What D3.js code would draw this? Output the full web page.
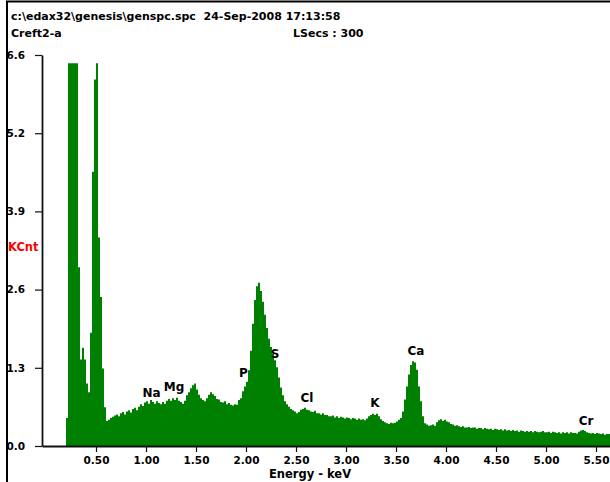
<!DOCTYPE html>
<html>
<head>
<meta charset="utf-8">
<script src="https://cdn.jsdelivr.net/npm/d3@7"></script>
<style>
  body { margin: 0; background: #fff; }
  svg text { font-family: "DejaVu Sans", sans-serif; font-weight: bold; white-space: pre; }
</style>
</head>
<body>
<div id="chart"></div>
<script>
// spectrum header
const headerLine1 = "c:\\edax32\\genesis\\genspc.spc  24-Sep-2008 17:13:58";
const headerLabel = "Creft2-a";
const liveSecs = "LSecs : 300";

// channels: start energy (keV) and width (keV)
const startKeV = 0.20;
const stepKeV = 0.02;

// counts per channel (KCnt)
const counts = [
  0.47, 6.42, 6.42, 6.42, 6.42, 6.42, 3.0, 1.45, 1.65, 1.45,
  1.05, 0.9, 1.9, 4.6, 6.15, 6.42, 3.5, 2.5, 1.3, 0.65,
  0.42, 0.44, 0.47, 0.49, 0.51, 0.53, 0.5, 0.55, 0.57, 0.53,
  0.58, 0.6, 0.56, 0.62, 0.64, 0.6, 0.66, 0.7, 0.67, 0.73,
  0.75, 0.71, 0.77, 0.74, 0.71, 0.75, 0.72, 0.7, 0.74, 0.71,
  0.76, 0.79, 0.76, 0.8, 0.77, 0.81, 0.76, 0.74, 0.71, 0.76,
  0.85, 0.9, 0.97, 1.02, 1.05, 0.95, 0.86, 0.8, 0.77, 0.75,
  0.8, 0.86, 0.9, 0.87, 0.84, 0.79, 0.78, 0.74, 0.73, 0.75,
  0.7, 0.72, 0.69, 0.68, 0.7, 0.69, 0.77, 0.8, 0.92, 1.0,
  1.08, 1.27, 1.6, 2.05, 2.45, 2.68, 2.74, 2.6, 2.42, 2.2,
  1.98, 1.8, 1.66, 1.55, 1.44, 1.32, 1.15, 0.98, 0.85, 0.75,
  0.7, 0.66, 0.62, 0.6, 0.58, 0.55, 0.57, 0.61, 0.62, 0.64,
  0.61, 0.6, 0.58, 0.57, 0.59, 0.55, 0.55, 0.53, 0.55, 0.52,
  0.52, 0.5, 0.5, 0.51, 0.48, 0.5, 0.47, 0.49, 0.48, 0.46,
  0.48, 0.47, 0.45, 0.47, 0.46, 0.44, 0.46, 0.44, 0.45, 0.43,
  0.46, 0.5, 0.52, 0.54, 0.52, 0.54, 0.5, 0.45, 0.42, 0.4,
  0.38, 0.37, 0.39, 0.38, 0.39, 0.41, 0.44, 0.47, 0.58, 0.78,
  1.0, 1.2, 1.36, 1.42, 1.4, 1.28, 1.0, 0.75, 0.5, 0.38,
  0.36, 0.34, 0.35, 0.36, 0.34, 0.4, 0.43, 0.45, 0.42, 0.44,
  0.41, 0.4, 0.37, 0.36, 0.34, 0.35, 0.33, 0.32, 0.33, 0.31,
  0.31, 0.32, 0.3, 0.31, 0.31, 0.29, 0.3, 0.3, 0.28, 0.3,
  0.29, 0.28, 0.29, 0.27, 0.29, 0.28, 0.27, 0.28, 0.26, 0.28,
  0.26, 0.27, 0.25, 0.27, 0.25, 0.26, 0.24, 0.26, 0.25, 0.24,
  0.25, 0.24, 0.25, 0.23, 0.25, 0.24, 0.23, 0.24, 0.25, 0.23,
  0.23, 0.24, 0.22, 0.24, 0.23, 0.22, 0.23, 0.21, 0.23, 0.22,
  0.23, 0.21, 0.23, 0.22, 0.22, 0.21, 0.24, 0.26, 0.27, 0.25,
  0.23, 0.22, 0.21, 0.22, 0.2, 0.22, 0.21, 0.2, 0.21, 0.19,
  0.2, 0.2
];

// element markers
const elements = ["Na", "Mg", "P", "S", "Cl", "K", "Ca", "Cr"];
const elementKeV = [1.055, 1.28, 1.975, 2.29, 2.61, 3.29, 3.70, 5.40];
const elementKCnt = [0.83, 0.93, 1.15, 1.47, 0.73, 0.65, 1.53, 0.35];

// axis ticks
const xTicks = [0.5, 1.0, 1.5, 2.0, 2.5, 3.0, 3.5, 4.0, 4.5, 5.0, 5.5];
const yTicks = [0, 1.312, 2.624, 3.936, 5.248, 6.56];

const width = 610, height = 482;

const svg = d3.select("#chart")
  .append("svg")
  .attr("width", width)
  .attr("height", height);

const x = d3.scaleLinear().domain([-0.04, 5.64]).range([42, 610]);
const y = d3.scaleLinear().domain([0, 6.56]).range([446, 55]);

// window frame
svg.append("path")
  .attr("d", "M7,482V1.5H610")
  .attr("fill", "none")
  .attr("stroke", "#000")
  .attr("stroke-width", 2);

// header text
svg.append("text").attr("x", 11).attr("y", 20).attr("font-size", 11).text(headerLine1);
svg.append("text").attr("x", 11).attr("y", 37).attr("font-size", 11).text(headerLabel);
svg.append("text").attr("x", 293).attr("y", 37).attr("font-size", 11).text(liveSecs);

// spectrum
const pts = counts.map((v, i) => [startKeV + i * stepKeV, v]);
pts.push([startKeV + counts.length * stepKeV, counts[counts.length - 1]]);

const area = d3.area()
  .x(d => x(d[0]))
  .y0(y(0))
  .y1(d => y(d[1]))
  .curve(d3.curveStepAfter);

svg.append("path")
  .datum(pts)
  .attr("d", area)
  .attr("fill", "#008000");

// axes
const xAxis = svg.append("g")
  .attr("transform", `translate(0,${y(0)})`)
  .call(d3.axisBottom(x)
    .tickValues(xTicks)
    .tickFormat(d3.format(".2f"))
    .tickSize(6)
    .tickSizeOuter(0)
    .tickPadding(5));

const yAxis = svg.append("g")
  .attr("transform", `translate(${x(-0.04)},0)`)
  .call(d3.axisLeft(y)
    .tickValues(yTicks)
    .tickFormat(d3.format(".1f"))
    .tickSize(7)
    .tickSizeOuter(0)
    .tickPadding(10));

[xAxis, yAxis].forEach(g => {
  g.select(".domain").attr("stroke", "#111").attr("stroke-width", 1.8);
  g.selectAll(".tick line").attr("stroke", "#111").attr("stroke-width", 1.2);
  g.selectAll(".tick text")
    .attr("fill", "#000")
    .attr("font-family", "DejaVu Sans")
    .attr("font-weight", "bold")
    .attr("font-size", 10.5);
});

// axis titles
svg.append("text")
  .attr("x", 8).attr("y", 251)
  .attr("fill", "#ff0000")
  .attr("font-size", 11.5)
  .text("KCnt");

svg.append("text")
  .attr("x", 310).attr("y", 478)
  .attr("text-anchor", "middle")
  .attr("font-size", 11.5)
  .text("Energy - keV");

// element labels
svg.selectAll(".el")
  .data(elements)
  .enter()
  .append("text")
  .attr("class", "el")
  .attr("x", (d, i) => x(elementKeV[i]))
  .attr("y", (d, i) => y(elementKCnt[i]))
  .attr("text-anchor", "middle")
  .attr("font-size", 12)
  .text(d => d);
</script>
</body>
</html>
